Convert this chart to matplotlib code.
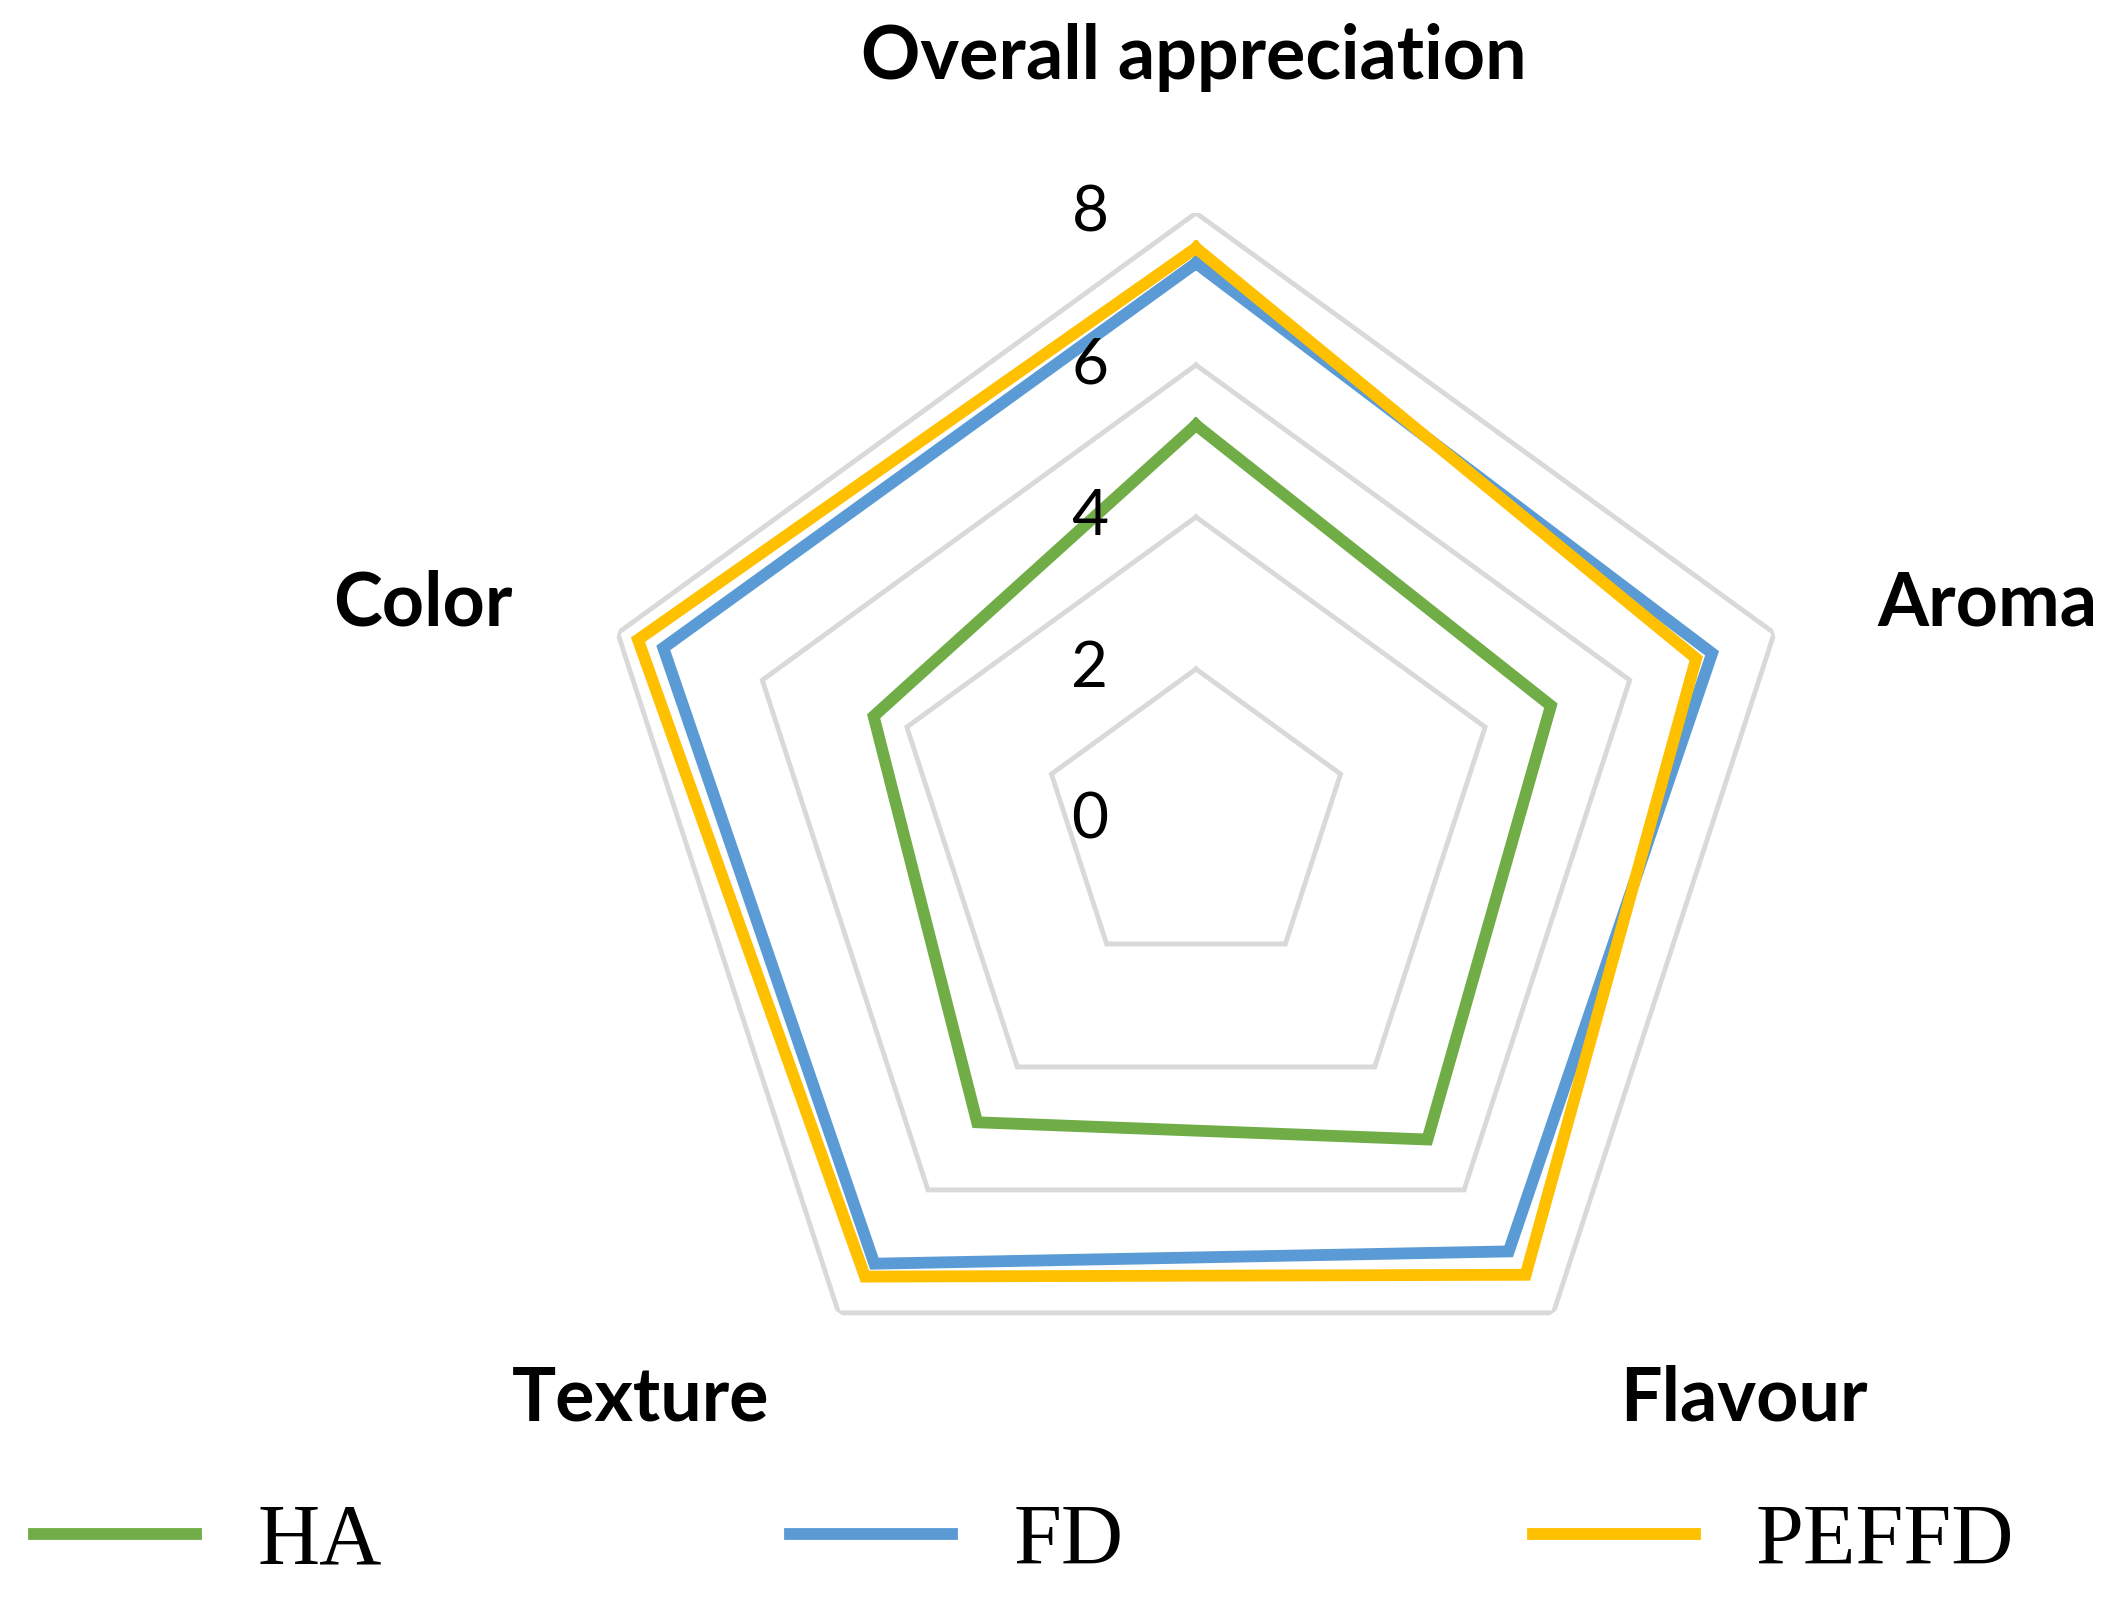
import numpy as np
import matplotlib
matplotlib.use("Agg")
import matplotlib.pyplot as plt

categories = ["Overall appreciation", "Aroma", "Flavour", "Texture", "Color"]
ha_scores = [5.21, 4.91, 5.18, 4.90, 4.46]
fd_scores = [7.34, 7.14, 7.00, 7.20, 7.37]
peffd_scores = [7.54, 6.92, 7.38, 7.41, 7.72]
series_names = ["HA", "FD", "PEFFD"]
series_colors = ["#70ad47", "#5b9bd5", "#ffc000"]
grid_levels = [2, 4, 6, 8]
tick_levels = [0, 2, 4, 6, 8]

W, H = 2120, 1597
fig = plt.figure(figsize=(W / 100, H / 100), dpi=100)

# polar axes centred at (1196, 821) px, radius 8 -> 608 px
cx, cy, R = 1196, 821, 608
ax = fig.add_axes([(cx - R) / W, (H - cy - R) / H, 2 * R / W, 2 * R / H],
                  projection="polar")
ax.set_theta_offset(np.pi / 2)
ax.set_theta_direction(-1)
ax.set_ylim(0, 8)
ax.grid(False)
ax.spines["polar"].set_visible(False)
ax.set_xticks([])
ax.set_yticks([])
ax.patch.set_alpha(0)

n = len(categories)
theta = np.linspace(0, 2 * np.pi, n, endpoint=False)
theta_c = np.append(theta, theta[0])

for lv in grid_levels:
    ax.plot(theta_c, [lv] * (n + 1), color="#d9d9d9", lw=3.5, zorder=1,
            solid_joinstyle="miter")

for name, vals, col in zip(series_names, [ha_scores, fd_scores, peffd_scores], series_colors):
    ax.plot(theta_c, list(vals) + [vals[0]], color=col, lw=8.5, label=name,
            zorder=3, solid_joinstyle="miter")

for lv in tick_levels:
    ax.annotate(str(lv), xy=(0, lv), xytext=(-106, 0), textcoords="offset pixels",
                ha="center", va="center", fontsize=46, family="Lato",
                color="#000000", annotation_clip=False, zorder=4)

label_pos = {
    "Overall appreciation": (1194, 57),
    "Aroma": (1987, 604),
    "Flavour": (1744, 1399),
    "Texture": (641, 1399),
    "Color": (423, 604),
}
for cat in categories:
    x, y = label_pos[cat]
    fig.text(x / W, 1 - y / H, cat, ha="center", va="center", fontsize=53,
             fontweight="bold", family="Lato", color="#000000")

leg = fig.legend(loc="center left", bbox_to_anchor=(34 / W, 1 - 1543 / H), ncol=3,
                 frameon=False, borderpad=0, borderaxespad=0, handlelength=1.88,
                 handletextpad=0.71, columnspacing=4.75,
                 prop={"family": "Liberation Serif", "size": 62})
for h in leg.get_lines():
    h.set_linewidth(8.5)

fig.savefig("out.png", dpi=100)
